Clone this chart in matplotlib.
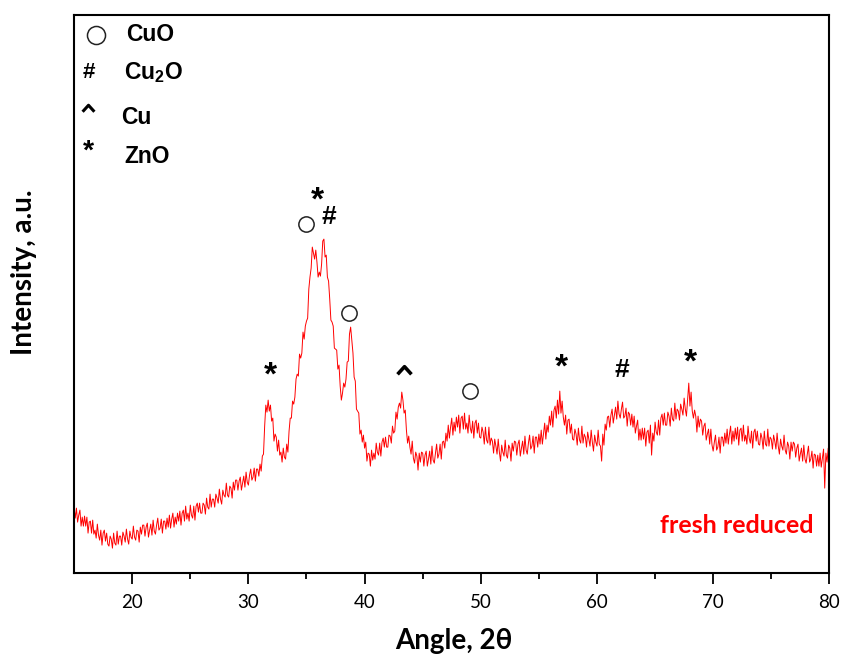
import numpy as np
import matplotlib
matplotlib.use("Agg")
import matplotlib.pyplot as plt

plt.rcParams["mathtext.fontset"] = "custom"
plt.rcParams["mathtext.rm"] = "Liberation Sans"
plt.rcParams["mathtext.bf"] = "Liberation Sans:bold"

# XRD pattern, 2theta 15..80 in 0.1 deg steps (one row = one degree), a.u.
angle_start = 15.0
angle_step = 0.1
intensity = [
    65, 55, 65, 51, 58, 63, 47, 56, 47, 57,
    47, 56, 40, 51, 52, 40, 53, 39, 43, 35,
    49, 38, 33, 43, 28, 40, 43, 32, 40, 29,
    27, 37, 34, 25, 40, 30, 28, 42, 29, 37,
    37, 28, 41, 37, 31, 44, 34, 29, 42, 36,
    34, 47, 36, 33, 43, 42, 31, 46, 39, 48,
    48, 37, 46, 50, 36, 43, 49, 38, 53, 42,
    39, 48, 55, 43, 45, 54, 40, 52, 52, 44,
    55, 46, 58, 45, 54, 60, 46, 56, 49, 60,
    52, 62, 48, 60, 63, 52, 67, 54, 60, 52,
    68, 58, 55, 67, 53, 67, 70, 61, 70, 60,
    60, 70, 68, 59, 75, 66, 64, 79, 66, 74,
    74, 66, 79, 75, 70, 84, 74, 69, 83, 78,
    76, 90, 78, 76, 87, 85, 75, 91, 83, 93,
    93, 83, 92, 96, 83, 90, 97, 86, 101, 91,
    88, 98, 104, 93, 96, 105, 92, 104, 104, 97,
    109, 102, 117, 119, 147, 168, 161, 173, 162, 168,
    152, 155, 132, 139, 136, 122, 133, 118, 121, 111,
    125, 116, 114, 129, 121, 142, 155, 155, 172, 169,
    176, 194, 199, 197, 219, 215, 220, 241, 234, 247,
    252, 255, 284, 296, 305, 326, 320, 314, 323, 311,
    296, 301, 297, 309, 332, 334, 316, 318, 296, 292,
    274, 253, 251, 247, 225, 224, 223, 204, 208, 187,
    173, 180, 190, 186, 194, 211, 212, 239, 246, 233,
    220, 196, 192, 164, 162, 160, 139, 143, 131, 138,
    125, 131, 112, 120, 119, 107, 123, 113, 120, 114,
    130, 121, 118, 130, 117, 131, 135, 126, 136, 126,
    126, 138, 137, 130, 147, 140, 142, 161, 154, 166,
    170, 165, 181, 173, 160, 163, 143, 130, 137, 126,
    119, 132, 115, 110, 121, 117, 103, 120, 111, 121,
    120, 107, 118, 122, 107, 114, 122, 109, 127, 113,
    110, 120, 129, 115, 119, 129, 114, 131, 132, 125,
    140, 132, 148, 135, 146, 155, 138, 151, 142, 156,
    146, 158, 140, 155, 157, 144, 160, 144, 150, 140,
    158, 145, 140, 152, 135, 150, 153, 140, 150, 136,
    135, 146, 141, 129, 146, 133, 130, 146, 128, 135,
    132, 120, 134, 127, 119, 134, 121, 112, 128, 121,
    117, 133, 118, 115, 128, 125, 112, 130, 122, 132,
    131, 118, 129, 133, 117, 125, 132, 119, 137, 123,
    119, 130, 138, 124, 127, 137, 120, 136, 136, 126,
    139, 129, 143, 129, 140, 150, 134, 148, 141, 157,
    148, 162, 146, 163, 167, 155, 173, 159, 182, 160,
    172, 156, 148, 158, 139, 153, 154, 140, 149, 134,
    133, 144, 139, 128, 145, 133, 130, 147, 130, 139,
    136, 126, 141, 134, 127, 143, 131, 122, 138, 131,
    127, 143, 129, 127, 112, 139, 128, 149, 143, 156,
    157, 146, 158, 164, 150, 158, 166, 154, 172, 159,
    155, 164, 171, 155, 157, 165, 147, 161, 159, 148,
    159, 146, 157, 140, 147, 153, 133, 144, 133, 145,
    134, 145, 127, 141, 143, 130, 148, 118, 140, 132,
    151, 141, 138, 153, 138, 155, 159, 148, 160, 148,
    148, 161, 157, 147, 165, 154, 152, 170, 154, 164,
    162, 153, 169, 164, 158, 175, 164, 157, 174, 190,
    167, 181, 162, 155, 163, 157, 141, 157, 146, 154,
    152, 138, 147, 150, 133, 139, 144, 129, 144, 128,
    122, 131, 138, 123, 126, 136, 120, 136, 136, 127,
    140, 130, 144, 129, 139, 147, 129, 142, 132, 145,
    134, 146, 128, 143, 145, 132, 148, 132, 138, 129,
    147, 135, 130, 142, 125, 141, 144, 132, 142, 129,
    128, 140, 135, 124, 142, 129, 127, 144, 127, 136,
    134, 124, 138, 132, 124, 140, 127, 119, 134, 127,
    123, 138, 123, 119, 131, 127, 114, 131, 122, 131,
    129, 116, 125, 129, 112, 119, 125, 112, 128, 114,
    110, 119, 127, 111, 114, 122, 105, 119, 118, 107,
    118, 107, 120, 106, 115, 124, 85, 120, 111, 125,
    118,
]
angle = angle_start + angle_step * np.arange(len(intensity))

# peak markers: position, height, symbol
peak_angle = [31.9, 35.0, 35.9, 36.9, 38.7, 43.4, 49.1, 56.9, 62.1, 68.0]
peak_height = [197, 349, 372, 356, 260, 203, 182, 205, 203, 210]
peak_symbol = ["*", "o", "*", "#", "o", "^", "o", "*", "#", "*"]

legend_symbol = ["o", "#", "^", "*"]
legend_label = ["CuO", "Cu$_\\mathbf{2}$O", "Cu", "ZnO"]

# open chevron used for the Cu reflections
chevron = [(-1.0, -0.55), (0.0, 0.55), (1.0, -0.55)]

fig = plt.figure(figsize=(8.42, 6.55), dpi=100)
ax = fig.add_axes([0.088, 0.125, 0.897, 0.852])
ax.plot(angle, intensity, color="#ff0000", linewidth=0.7)

ax.set_xlim(15, 80)
ax.set_ylim(0, 558)
ax.set_yticks([])
ax.set_xticks([20, 30, 40, 50, 60, 70, 80])
ax.set_xticks([25, 35, 45, 55, 65, 75], minor=True)
ax.tick_params(axis="x", which="major", direction="out", length=8, width=1.3,
               labelsize=13.5, pad=7)
ax.tick_params(axis="x", which="minor", direction="out", length=4, width=1.3)
for lab in ax.get_xticklabels():
    lab.set_family("Lato")
for s in ax.spines.values():
    s.set_linewidth(1.5)

def draw_symbol(x, y, sym, transform, size, scale=1.0):
    if sym == "o":
        ax.plot([x], [y], marker="o", markersize=size, markerfacecolor="none",
                markeredgecolor="#222222", markeredgewidth=1.1,
                transform=transform, clip_on=False)
    elif sym == "*":
        ax.text(x, y, "*", fontsize=24 * scale, fontweight="bold", ha="center",
                va="center", transform=transform, family="Liberation Sans")
    elif sym == "^":
        ax.plot([x], [y], marker=chevron, markersize=10 * scale,
                markerfacecolor="none", markeredgecolor="black",
                markeredgewidth=2.6 * scale, transform=transform, clip_on=False)
    else:
        ax.text(x, y, "#", fontsize=19 * scale, fontweight="bold", ha="center",
                va="center", transform=transform, family="Liberation Sans")

for x, y, s in zip(peak_angle, peak_height, peak_symbol):
    draw_symbol(x, y, s, ax.transData, 11)

# legend block in axes coords
legend_x = [0.029, 0.019, 0.019, 0.019]
legend_dy = [0.0, 0.0, 0.004, -0.006]
text_x = [0.069, 0.066, 0.062, 0.066]
text_dy = [0.0, 0.0, -0.012, -0.014]
for i, (s, lab) in enumerate(zip(legend_symbol, legend_label)):
    yy = 0.965 - i * 0.068
    draw_symbol(legend_x[i], yy + legend_dy[i], s, ax.transAxes, 13, 0.85)
    ax.text(text_x[i], yy + text_dy[i], lab, fontsize=16.5,
            fontweight="bold", ha="left", va="center", transform=ax.transAxes,
            family="Liberation Sans")

ax.text(0.979, 0.086, "fresh reduced", color="#ff0000", fontsize=18,
        fontweight="bold", ha="right", va="center", transform=ax.transAxes,
        family="Lato")

fig.text(454 / 842, 1 - 641 / 655, "Angle, 2\u03b8", fontsize=20,
         fontweight="bold", family="Lato", ha="center", va="center")
fig.text(24 / 842, 1 - 272 / 655, "Intensity, a.u.", fontsize=20,
         fontweight="bold", family="Lato", ha="center", va="center",
         rotation=90)

fig.savefig("out.png", dpi=100)
